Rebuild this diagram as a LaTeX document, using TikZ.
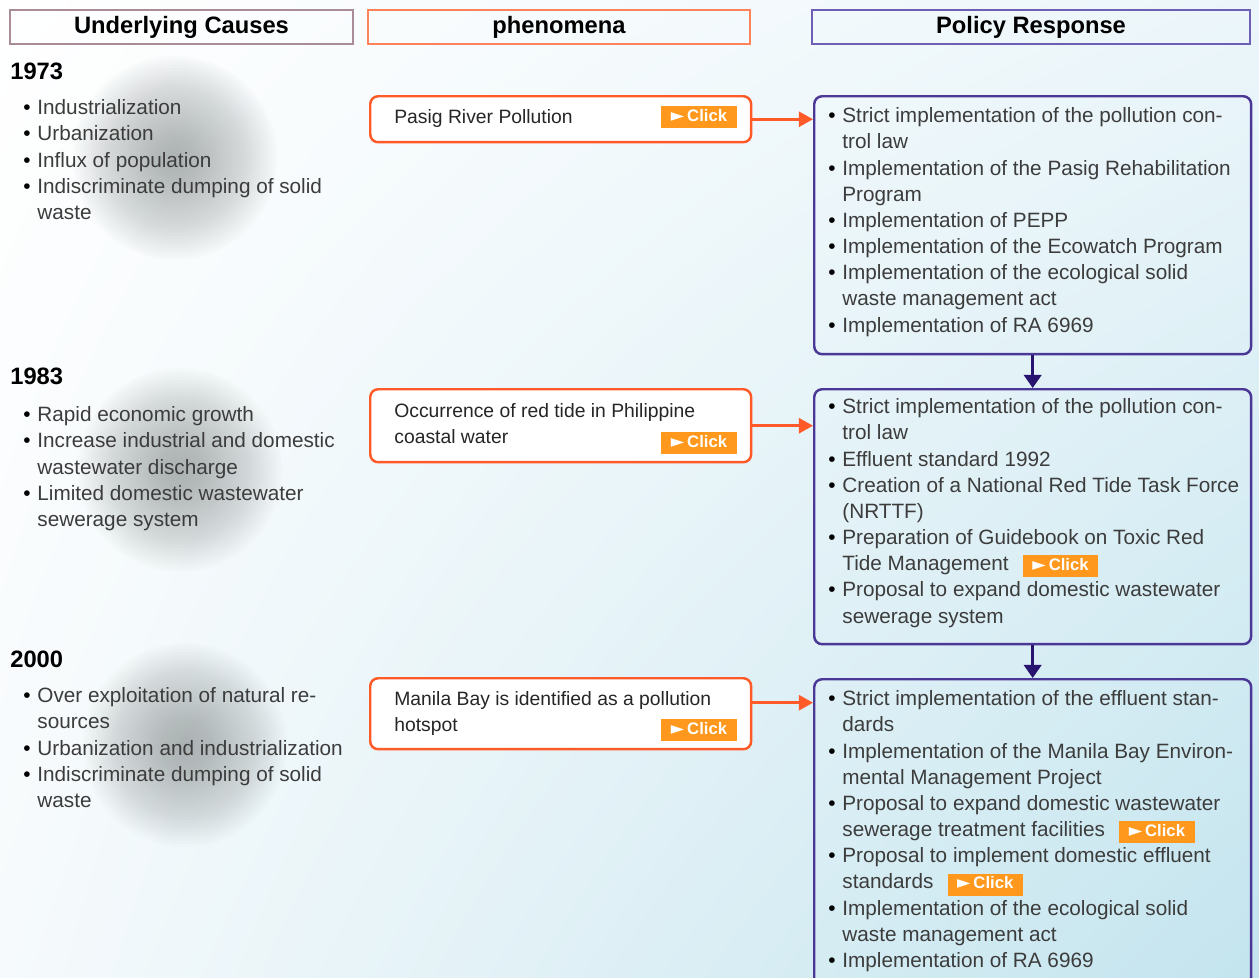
\documentclass[tikz,border=0pt]{standalone}
\usepackage{fontspec}
\setmainfont{Liberation Sans}
\newfontfamily\symfont{DejaVu Sans}
\usepackage{xcolor}
\usepackage{tikz}
\usetikzlibrary{positioning,calc,arrows.meta,shadings}

\definecolor{phenred}{RGB}{255,90,40}
\definecolor{polblue}{RGB}{75,55,150}
\definecolor{arrblue}{RGB}{40,20,110}
\definecolor{clickorange}{RGB}{255,152,28}
\definecolor{hdrgray}{RGB}{170,140,150}
\definecolor{hdrorange}{RGB}{255,130,90}
\definecolor{hdrpurple}{RGB}{110,95,180}
\definecolor{txtgray}{RGB}{60,60,60}
\definecolor{bgtr}{RGB}{236,246,250}
\definecolor{bgbr}{RGB}{195,228,238}
\definecolor{bgbl}{RGB}{246,250,252}
\definecolor{spotgray}{RGB}{150,156,156}

\newcommand\clickbox{{\setlength{\fboxsep}{0pt}\colorbox{clickorange}{\makebox[43pt]{\rule[-3.8pt]{0pt}{12.5pt}\color{white}\bfseries\fontsize{9.5}{10}\selectfont{\symfont\fontsize{10}{10}\selectfont ►}\,Click}}}}
\newcommand\clickbtn{\smash{\clickbox}}
\newcommand\itemdot{\makebox[8pt][l]{\textcolor{black}{\textbullet}}}
\newcommand\itemgap{\hspace*{8pt}}

\begin{document}
\begin{tikzpicture}[x=0.02cm, y=-0.02cm,
    hdrbox/.style={draw, line width=1.1pt, minimum height=0.68cm, inner sep=0pt, font=\bfseries\fontsize{13.5}{16}\selectfont},
    phenbox/.style={draw=phenred, fill=white, line width=1.4pt, rounded corners=4.5pt, minimum width=7.62cm, anchor=north west, inner sep=0pt},
    polbox/.style={draw=polblue, line width=1.4pt, rounded corners=4.5pt, minimum width=8.74cm, anchor=north west, inner sep=0pt},
    yeartxt/.style={anchor=base west, inner sep=0pt, font=\bfseries\fontsize{13.5}{16}\selectfont},
    causetxt/.style={anchor=north west, inner sep=0pt, align=left, text=txtgray, font=\fontsize{11.8}{14.9}\selectfont},
    phentxt/.style={anchor=north west, inner sep=0pt, align=left, text=black!85, font=\fontsize{11}{14.9}\selectfont},
    clicknode/.style={inner sep=0pt},
    phenarrow/.style={draw=phenred, line width=1.5pt, -{Triangle[length=8pt,width=8.5pt]}},
    polarrow/.style={draw=arrblue, line width=1.5pt, -{Triangle[length=7.5pt,width=10pt]}}
  ]
    % Background
    \clip (0,0) rectangle (1259,978);
    \shade[upper left=white, lower left=bgbl, upper right=bgtr, lower right=bgbr] (0,0) rectangle (1259,978);
    % Grey spots behind the causes
    \foreach \cx/\cy in {175/158, 180/470, 185/745}
      \foreach \r in {102,99,...,3}
        \fill[spotgray, opacity=0.03] (\cx,\cy) circle (\r);
    % Headers
    \node[hdrbox, draw=hdrgray, minimum width=6.86cm] (hcause) at (181.5,27) {Underlying Causes};
    \node[hdrbox, draw=hdrorange, minimum width=7.64cm] (hphen) at (559,27) {phenomena};
    \node[hdrbox, draw=hdrpurple, minimum width=8.76cm] (hpol) at (1031,27) {Policy Response};
    % Years
    \node[yeartxt] (y1973) at (10,79) {1973};
    \node[yeartxt] (y1983) at (10,384) {1983};
    \node[yeartxt] (y2000) at (10,667) {2000};
    % Causes
    \node[causetxt] (cause1) at (23,96) {\strut\itemdot Industrialization\\
      \itemdot Urbanization\\
      \itemdot Influx of population\\
      \itemdot Indiscriminate dumping of solid\\
      \itemgap waste};
    \node[causetxt] (cause2) at (23,403) {\strut\itemdot Rapid economic growth\\
      \itemdot Increase industrial and domestic\\
      \itemgap wastewater discharge\\
      \itemdot Limited domestic wastewater\\
      \itemgap sewerage system};
    \node[causetxt] (cause3) at (23,684) {\strut\itemdot Over exploitation of natural re-\\
      \itemgap sources\\
      \itemdot Urbanization and industrialization\\
      \itemdot Indiscriminate dumping of solid\\
      \itemgap waste};
    % Phenomena
    \node[phenbox, minimum height=0.92cm] (phen1) at (369,95) {};
    \node[phenbox, minimum height=1.46cm] (phen2) at (369,388) {};
    \node[phenbox, minimum height=1.42cm] (phen3) at (369,677) {};
    \node[phentxt] (phen1txt) at (394,105) {\strut Pasig River Pollution};
    \node[phentxt] (phen2txt) at (394,399) {\strut Occurrence of red tide in Philippine\\coastal water};
    \node[phentxt] (phen3txt) at (394,687) {\strut Manila Bay is identified as a pollution\\hotspot};
    \node[clicknode] (clk1) at (699,117) {\clickbox};
    \node[clicknode] (clk2) at (699,443) {\clickbox};
    \node[clicknode] (clk3) at (699,730) {\clickbox};
    % Policy response
    \node[polbox, minimum height=5.16cm] (pol1) at (813,95) {};
    \node[polbox, minimum height=5.10cm] (pol2) at (813,388) {};
    \node[polbox, minimum height=6.60cm] (pol3) at (813,678) {};
    \node[causetxt] (pol1txt) at (828,104) {\strut\itemdot Strict implementation of the pollution con-\\
      \itemgap trol law\\
      \itemdot Implementation of the Pasig Rehabilitation\\
      \itemgap Program\\
      \itemdot Implementation of PEPP\\
      \itemdot Implementation of the Ecowatch Program\\
      \itemdot Implementation of the ecological solid\\
      \itemgap waste management act\\
      \itemdot Implementation of RA 6969};
    \node[causetxt] (pol2txt) at (828,395) {\strut\itemdot Strict implementation of the pollution con-\\
      \itemgap trol law\\
      \itemdot Effluent standard 1992\\
      \itemdot Creation of a National Red Tide Task Force\\
      \itemgap (NRTTF)\\
      \itemdot Preparation of Guidebook on Toxic Red\\
      \itemgap Tide Management\hspace{8pt}\clickbtn\\
      \itemdot Proposal to expand domestic wastewater\\
      \itemgap sewerage system};
    \node[causetxt] (pol3txt) at (828,687) {\strut\itemdot Strict implementation of the effluent stan-\\
      \itemgap dards\\
      \itemdot Implementation of the Manila Bay Environ-\\
      \itemgap mental Management Project\\
      \itemdot Proposal to expand domestic wastewater\\
      \itemgap sewerage treatment facilities\hspace{8pt}\clickbtn\\
      \itemdot Proposal to implement domestic effluent\\
      \itemgap standards\hspace{8pt}\clickbtn\\
      \itemdot Implementation of the ecological solid\\
      \itemgap waste management act\\
      \itemdot Implementation of RA 6969};
    % Arrows
    \coordinate (p3out) at ($(phen3.north east)!0.35!(phen3.south east)$);
    \draw[phenarrow] (phen1.east) -- (phen1.east -| pol1.west);
    \draw[phenarrow] (phen2.east) -- (phen2.east -| pol2.west);
    \draw[phenarrow] (p3out) -- (p3out -| pol3.west);
    \draw[polarrow] (pol1.south) -- (pol2.north);
    \draw[polarrow] (pol2.south) -- (pol3.north);
\end{tikzpicture}
\end{document}
